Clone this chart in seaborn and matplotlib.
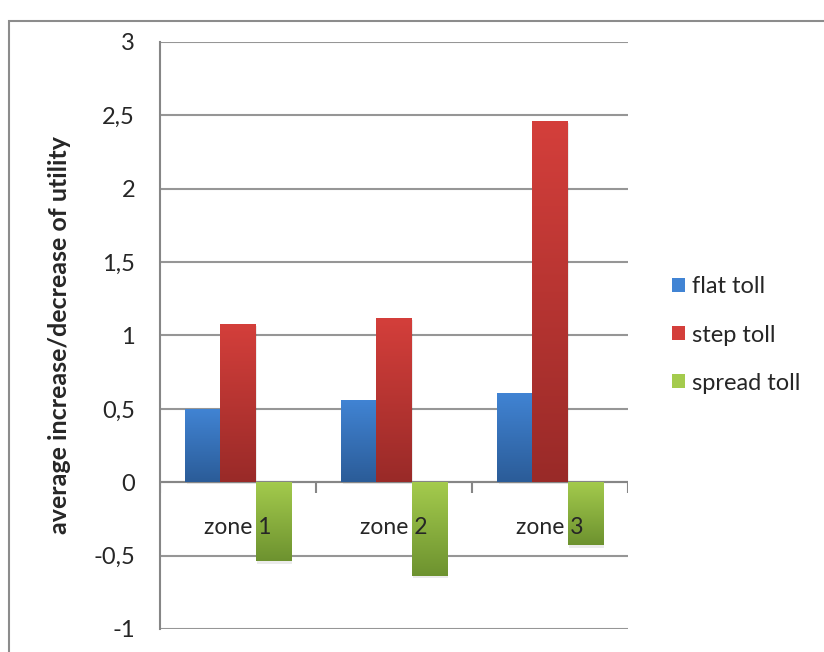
import numpy as np
import pandas as pd
import matplotlib
matplotlib.use("Agg")
import matplotlib.pyplot as plt
import seaborn as sns
from matplotlib.colors import LinearSegmentedColormap
from matplotlib.patches import Rectangle
from matplotlib.ticker import FuncFormatter

# data
zones = ["zone 1", "zone 2", "zone 3"]
series = ["flat toll", "step toll", "spread toll"]
flat_toll = [0.50, 0.56, 0.61]
step_toll = [1.08, 1.12, 2.46]
spread_toll = [-0.54, -0.64, -0.43]
y_ticks = [-1, -0.5, 0, 0.5, 1, 1.5, 2, 2.5, 3]

# gradient colours (top, bottom) per series
grad = {
    "flat toll": ("#4184d4", "#2b5c98"),
    "step toll": ("#d43f3b", "#992a28"),
    "spread toll": ("#a4cb4d", "#6d922f"),
}

df = pd.DataFrame({
    "zone": zones * 3,
    "series": [s for s in series for _ in zones],
    "value": flat_toll + step_toll + spread_toll,
})

sns.set_style("white")
plt.rcParams["font.family"] = ["Lato", "DejaVu Sans"]

fig = plt.figure(figsize=(8.24, 6.52), dpi=100)
ax = fig.add_axes([0.1942, 0.0353, 0.568, 0.9003])

palette = {s: grad[s][0] for s in series}
sns.barplot(data=df, x="zone", y="value", hue="series", hue_order=series,
            order=zones, palette=palette, width=0.675, ax=ax,
            legend=False, saturation=1, edgecolor="none", zorder=3)

# replace flat fills with vertical gradients
bars = [p for p in ax.patches if isinstance(p, Rectangle)]
for i, p in enumerate(bars):
    s = series[i // len(zones)]
    top, bot = grad[s]
    cmap = LinearSegmentedColormap.from_list(s, [top, bot])
    x0, w = p.get_x(), p.get_width()
    y0, h = p.get_y(), p.get_height()
    lo, hi = min(y0, y0 + h), max(y0, y0 + h)
    # soft shadow
    ax.add_patch(Rectangle((x0 + 0.01, lo - 0.015), w, hi - lo,
                           facecolor="#000000", alpha=0.08, edgecolor="none", zorder=2))
    im = ax.imshow(np.linspace(0, 1, 256).reshape(-1, 1), cmap=cmap,
                   extent=[x0, x0 + w, lo, hi], aspect="auto", origin="upper", zorder=3)
    im.set_clip_path(p)
    p.set_facecolor("none")

ax.set_xlim(-0.5, len(zones) - 0.5)
ax.set_ylim(y_ticks[0], y_ticks[-1])

# axes styling, Excel look
for side in ["top", "right", "bottom"]:
    ax.spines[side].set_visible(False)
ax.spines["left"].set_color("#868686")
ax.spines["left"].set_linewidth(1.5)
ax.set_yticks(y_ticks)
ax.yaxis.set_major_formatter(FuncFormatter(lambda v, _: f"{v:g}".replace(".", ",")))
ax.tick_params(axis="y", length=7, width=1.5, color="#868686", labelsize=17, pad=11)
ax.yaxis.grid(True, color="#969696", linewidth=1.5, zorder=0)
ax.set_axisbelow(True)
ax.set_xticks([])
ax.set_xlabel("")
ax.set_ylabel("average increase/decrease of utility", fontsize=18, fontweight="bold")
ax.yaxis.set_label_coords(-0.19, 0.5)

# zero axis with category ticks
ax.axhline(0, color="#868686", linewidth=1.5, zorder=2)
bounds = np.arange(len(zones) + 1) - 0.5
ax.vlines(bounds, -0.07, 0, color="#868686", linewidth=1.5, zorder=2)

# category labels sitting just under the zero line
for i, z in enumerate(zones):
    ax.text(i, -0.31, z, ha="center", va="center", fontsize=16.5, zorder=5)

# legend
handles = [Rectangle((0, 0), 1, 1, facecolor=grad[s][0], edgecolor="none") for s in series]
fig.legend(handles, series, loc="center left", bbox_to_anchor=(672 / 824, 1 - 335 / 652),
           frameon=False, fontsize=17, handlelength=0.55, handleheight=0.55,
           handletextpad=0.3, labelspacing=1.15, borderpad=0, borderaxespad=0)

# outer chart border
fig.patches.append(Rectangle((9 / 824, -0.05), 1.0, 1 - 21 / 652 + 0.05,
                             transform=fig.transFigure, fill=False,
                             edgecolor="#8c8c8c", linewidth=1.5))

fig.savefig("out.png", dpi=100)
